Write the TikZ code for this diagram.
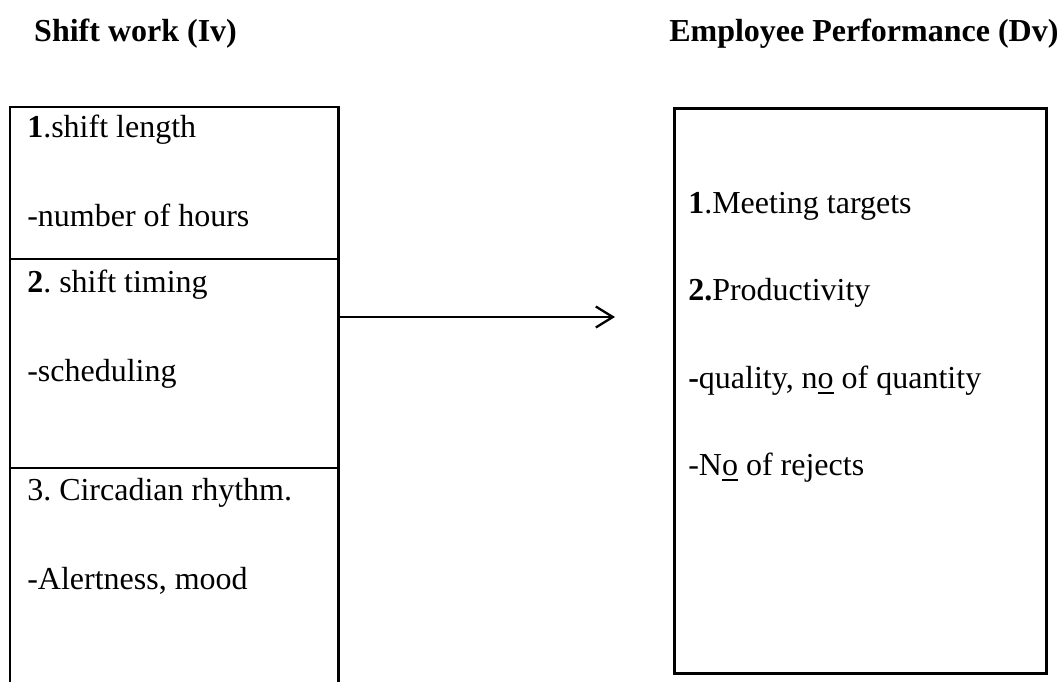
\documentclass[tikz,border=0pt]{standalone}
\usepackage{fontspec}
\setmainfont{Liberation Serif}
\usetikzlibrary{arrows.meta}
\newcommand\uo[1]{\setbox0\hbox{#1}\rlap{\rule[-6pt]{\wd0}{2pt}}#1}
\frenchspacing
\begin{document}
\begin{tikzpicture}[x=1pt,y=-1pt, line width=2.5pt,
  txt/.style={anchor=base west, inner sep=0pt, font=\fontsize{32}{38}\selectfont},
  ttl/.style={anchor=base west, inner sep=0pt, font=\fontsize{32}{38}\selectfont\bfseries},
  box/.style={inner sep=0pt, anchor=north west},
  arr/.style={-{Straight Barb[length=17pt,width=21pt,line width=2.3pt]}, line width=2.3pt}]
\path[use as bounding box] (0,0) rectangle (1057,681);
% titles
\node[ttl] (t1) at (33,41) {Shift work (Iv)};
\node[ttl] (t2) at (668,41) {Employee Performance (Dv)};
% left box
\node[box, minimum width=326pt, minimum height=574pt] (lbox) at (10,107) {};
\draw (lbox.south west) -- (lbox.north west) -- (lbox.north east) -- (lbox.south east);
\coordinate (d1) at (10,259);
\coordinate (d2) at (10,468);
\draw (d1) -- (d1 -| lbox.east);
\draw (d2) -- (d2 -| lbox.east);
% right box
\node[box, draw, minimum width=372pt, minimum height=565pt] (rbox) at (673,107) {};
% arrow
\coordinate (aend) at (615,317);
\draw[arr] (lbox.east |- aend) -- (aend);
% left texts
\node[txt] (l1) at (26,137) {\textbf{1}.shift length};
\node[txt] (l2) at (26,226) {-number of hours};
\node[txt] (l3) at (26,292) {\textbf{2}. shift timing};
\node[txt] (l4) at (26,381) {-scheduling};
\node[txt] (l5) at (26,500) {3. Circadian rhythm.};
\node[txt] (l6) at (26,589) {-Alertness, mood};
% right texts
\node[txt] (r1) at (687,213) {\textbf{1}.Meeting targets};
\node[txt] (r2) at (687,300) {\textbf{2.}Productivity};
\node[txt] (r3) at (687,388) {\textbf{-}quality, n\uo{o} of quantity};
\node[txt] (r4) at (687,475) {-N\uo{o} of rejects};
\end{tikzpicture}
\end{document}
